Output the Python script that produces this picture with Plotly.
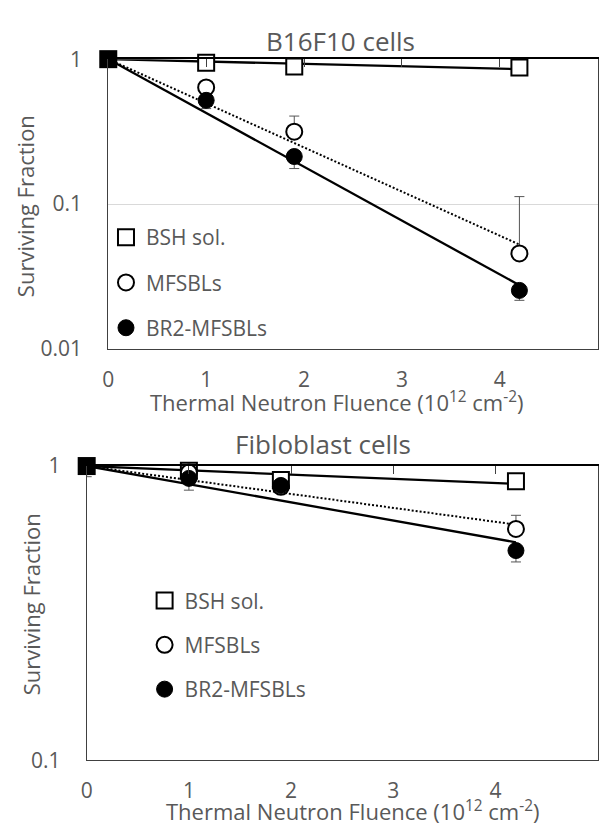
import numpy as np
import plotly.graph_objects as go

# ---------------- data ----------------
fluence = [0, 1, 1.9, 4.2]

# B16F10 cells
b16_bsh = [1.0, 0.945, 0.889, 0.876]
b16_mf = [1.0, 0.638, 0.316, 0.0457]
b16_br2 = [1.0, 0.52, 0.213, 0.0254]
b16_bsh_plus = [0, 0.05, 0, 0.12]
b16_mf_plus = [0, 0.04, 0.089, 0.067]
b16_br2_minus = [0, 0.064, 0.037, 0.0037]

# Fibroblast cells
fib_bsh = [1.0, 0.963, 0.897, 0.888]
fib_mf = [1.0, 0.95, 0.85, 0.611]
fib_br2 = [1.0, 0.908, 0.859, 0.516]
fib_mf_plus = [0, 0.02, 0, 0.069]
fib_br2_minus = [0.08, 0.08, 0.02, 0.044]

series_names = ["BSH sol.", "MFSBLs", "BR2-MFSBLs"]
x_ticks = [0, 1, 2, 3, 4, 5]

TXT = "#595959"
FONT = "Open Sans"


def exp_fit(x, y):
    x = np.asarray(x, float)
    y = np.asarray(y, float)
    k = (x * np.log(y)).sum() / (x ** 2).sum()
    xs = np.array([x.min(), x.max()])
    return xs, np.exp(k * xs)


fig = go.Figure()


def add_panel(xa, ya, bsh, mf, br2, bsh_plus, mf_plus, br2_minus, legend):
    # fitted trend lines
    for y, dash, w in [(bsh, "solid", 2.3), (mf, "2px,2px", 2.0), (br2, "solid", 2.3)]:
        xs, ys = exp_fit(fluence, y)
        fig.add_trace(go.Scatter(x=xs, y=ys, mode="lines", xaxis=xa, yaxis=ya,
                                 line=dict(color="black", width=w, dash=dash),
                                 showlegend=False, hoverinfo="skip", cliponaxis=False))
    ebar = dict(type="data", thickness=1, width=5, color="#555555")
    fig.add_trace(go.Scatter(x=fluence[1:], y=bsh[1:], mode="markers", name=series_names[0],
                             xaxis=xa, yaxis=ya, legend=legend, legendgroup=legend + "a",
                             cliponaxis=False,
                             marker=dict(symbol="square", size=16, color="white",
                                         line=dict(color="black", width=2)),
                             error_y=dict(array=bsh_plus[1:], arrayminus=[0] * 3, symmetric=False, **ebar)))
    fig.add_trace(go.Scatter(x=fluence[1:], y=mf[1:], mode="markers", name=series_names[1],
                             xaxis=xa, yaxis=ya, legend=legend, legendgroup=legend + "b",
                             cliponaxis=False,
                             marker=dict(symbol="circle", size=16, color="white",
                                         line=dict(color="black", width=2)),
                             error_y=dict(array=mf_plus[1:], arrayminus=[0] * 3, symmetric=False, **ebar)))
    fig.add_trace(go.Scatter(x=fluence[1:], y=br2[1:], mode="markers", name=series_names[2],
                             xaxis=xa, yaxis=ya, legend=legend, legendgroup=legend + "c",
                             cliponaxis=False,
                             marker=dict(symbol="circle", size=16, color="black",
                                         line=dict(color="black", width=1)),
                             error_y=dict(array=[0] * 3, arrayminus=br2_minus[1:], symmetric=False, **ebar)))
    # control point (x = 0)
    fig.add_trace(go.Scatter(x=fluence[:1], y=br2[:1], mode="markers", xaxis=xa, yaxis=ya,
                             showlegend=False, hoverinfo="skip", cliponaxis=False,
                             marker=dict(symbol="square", size=18, color="black"),
                             error_y=dict(array=[0], arrayminus=br2_minus[:1], symmetric=False, **ebar)))


add_panel("x", "y", b16_bsh, b16_mf, b16_br2, b16_bsh_plus, b16_mf_plus, b16_br2_minus, "legend")
add_panel("x2", "y2", fib_bsh, fib_mf, fib_br2, [0] * 4, fib_mf_plus, fib_br2_minus, "legend2")

# dummy traces to show top tick axes
fig.add_trace(go.Scatter(x=[None], y=[None], xaxis="x3", yaxis="y", showlegend=False, hoverinfo="skip"))
fig.add_trace(go.Scatter(x=[None], y=[None], xaxis="x4", yaxis="y2", showlegend=False, hoverinfo="skip"))

W, H = 600, 835


def py(px):
    return 1 - px / H


xbase = dict(range=[0, 5], tickvals=x_ticks, showgrid=False, zeroline=False,
             showline=True, linecolor="#404040", linewidth=1, mirror=True,
             ticks="outside", ticklen=12, tickcolor="rgba(0,0,0,0)",
             tickfont=dict(size=21, color=TXT, family=FONT))
xtop = dict(range=[0, 5], tickvals=x_ticks, showgrid=False, zeroline=False, side="top",
            showline=True, linecolor="black", linewidth=1.5, ticks="inside", ticklen=8,
            tickcolor="#404040", showticklabels=False)
ybase = dict(type="log", showline=True, linecolor="#404040", linewidth=1, mirror=True,
             zeroline=False, ticks="outside", ticklen=21, tickcolor="rgba(0,0,0,0)",
             tickfont=dict(size=21, color=TXT, family=FONT))

xd1 = [103.3 / W, 597.7 / W]
xd2 = [81.5 / W, 597.7 / W]
yd1 = [py(345.7), py(45.7)]
yd2 = [py(771), py(466.7)]

fig.update_layout(
    width=W, height=H, margin=dict(l=0, r=0, t=0, b=0),
    paper_bgcolor="white", plot_bgcolor="white",
    font=dict(family=FONT, color=TXT, size=21),
    xaxis=dict(domain=xd1, anchor="y", **xbase),
    yaxis=dict(domain=yd1, anchor="x", range=[-2, 0], tickvals=[0.01, 0.1, 1],
               ticktext=["0.01", "0.1", "1"], showgrid=True, gridcolor="#d9d9d9", **ybase),
    xaxis2=dict(domain=xd2, anchor="y2", **xbase),
    yaxis2=dict(domain=yd2, anchor="x2", range=[-1, 0], tickvals=[0.1, 1],
                ticktext=["0.1", "1"], showgrid=False, **ybase),
    xaxis3=dict(overlaying="x", anchor="y", **xtop),
    xaxis4=dict(overlaying="x2", anchor="y2", **xtop),
    legend=dict(x=101 / W, y=py(209), xanchor="left", yanchor="top",
                font=dict(size=21, color=TXT, family=FONT), tracegroupgap=15,
                bgcolor="rgba(0,0,0,0)"),
    legend2=dict(x=140 / W, y=py(585), xanchor="left", yanchor="top",
                 font=dict(size=21, color=TXT, family=FONT), tracegroupgap=14,
                 bgcolor="rgba(0,0,0,0)"),
    showlegend=True,
)

xt = "Thermal Neutron Fluence (10<sup>12</sup> cm<sup>-2</sup>)"
ann = [
    dict(text="B16F10 cells", x=337.5 / W, y=py(27), size=26, angle=0),
    dict(text="Fibloblast cells", x=320 / W, y=py(444), size=26, angle=0),
    dict(text=xt, x=334 / W, y=py(400), size=22, angle=0),
    dict(text=xt, x=351 / W, y=py(823), size=22, angle=0),
    dict(text="Surviving Fraction", x=20 / W, y=py(198), size=22, angle=-90),
    dict(text="Surviving Fraction", x=25 / W, y=py(610), size=22, angle=-90),
]
for a in ann:
    fig.add_annotation(text=a["text"], x=a["x"], y=a["y"], xref="paper", yref="paper",
                       xanchor="center", yanchor="middle", showarrow=False, textangle=a["angle"],
                       font=dict(size=a["size"], color=TXT, family=FONT))

fig.write_html("out.html")
